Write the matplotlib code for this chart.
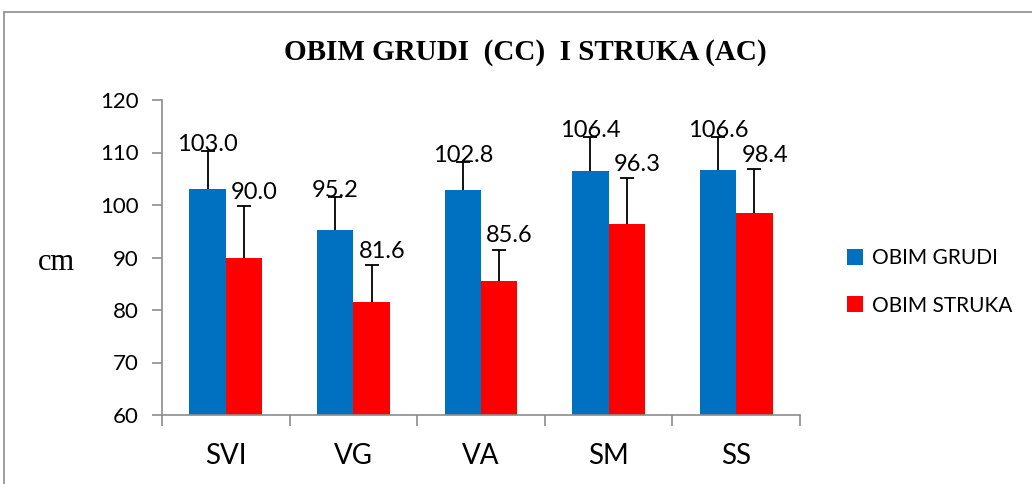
import matplotlib.pyplot as plt
import matplotlib.patches as mpatches
import numpy as np

groups = ['SVI', 'VG', 'VA', 'SM', 'SS']
grudi = [103.0, 95.2, 102.8, 106.4, 106.6]
struka = [90.0, 81.6, 85.6, 96.3, 98.4]
grudi_err = [7.3, 6.3, 5.4, 6.5, 6.3]
struka_err = [9.8, 7.0, 5.9, 8.8, 8.5]

blue = '#0070C0'
red = '#FF0000'
sans = 'Lato'

fig = plt.figure(figsize=(10.32, 4.84), dpi=100)
ax = fig.add_axes([162 / 1032, 1 - 415 / 484, 638 / 1032, 315 / 484])

# outer frame like the Excel chart area
fig.add_artist(mpatches.Rectangle((4 / 1032, -0.1), 1.2, 1 - 12 / 484 + 0.1,
                                  transform=fig.transFigure, fill=False,
                                  edgecolor='#8c8c8c', linewidth=1.2))

x = np.arange(len(groups))
w = 0.286
b1 = ax.bar(x - w / 2, grudi, w, color=blue, label='OBIM GRUDI')
b2 = ax.bar(x + w / 2, struka, w, color=red, label='OBIM STRUKA')

# upward-only error bars (drop the lower caps)
for pos, vals, errs in [(x - w / 2, grudi, grudi_err), (x + w / 2, struka, struka_err)]:
    eb = ax.errorbar(pos, vals, yerr=[np.zeros(len(vals)), errs], fmt='none',
                     ecolor='black', elinewidth=1.3, capsize=5, capthick=1.3)
    eb[1][0].set_visible(False)

# value labels above the error bars
for i in range(len(groups)):
    ax.text(x[i] - w / 2, grudi[i] + grudi_err[i] - 0.7, f'{grudi[i]:.1f}',
            ha='center', va='bottom', fontsize=17, family=sans)
    ax.text(x[i] + w / 2 + 0.08, struka[i] + struka_err[i] + 0.6, f'{struka[i]:.1f}',
            ha='center', va='bottom', fontsize=17, family=sans)

ax.set_xlim(-0.5, len(groups) - 0.5)
ax.set_ylim(60, 120)
ax.set_yticks(range(60, 121, 10))
ax.set_xticks(x)
ax.set_xticklabels(groups, fontsize=20, family=sans)
ax.set_xticks(np.arange(-0.5, len(groups)), minor=True)
ax.tick_params(axis='x', which='major', length=0, pad=20)
ax.tick_params(axis='x', which='minor', length=8, color='#8c8c8c', width=1.2)
ax.tick_params(axis='y', length=7, color='#8c8c8c', width=1.2, labelsize=16, pad=10)
for lab in ax.get_yticklabels():
    lab.set_family(sans)

for s in ['top', 'right']:
    ax.spines[s].set_visible(False)
for s in ['left', 'bottom']:
    ax.spines[s].set_color('#8c8c8c')
    ax.spines[s].set_linewidth(1.2)

fig.text(56 / 1032, 1 - 262 / 484, 'cm', family='Liberation Serif', fontsize=22,
         ha='center', va='center')
fig.text(525 / 1032, 1 - 52 / 484, 'OBIM GRUDI  (CC)  I STRUKA (AC)',
         family='Liberation Serif', fontweight='bold', fontsize=21,
         ha='center', va='center')

fig.legend(handles=[b1, b2], loc='center left', bbox_to_anchor=(828 / 1032, 1 - 282 / 484),
           frameon=False, prop={'family': sans, 'size': 15}, handlelength=0.8,
           handleheight=0.8, handletextpad=0.4, labelspacing=1.3)

fig.savefig('out.png', dpi=100)
